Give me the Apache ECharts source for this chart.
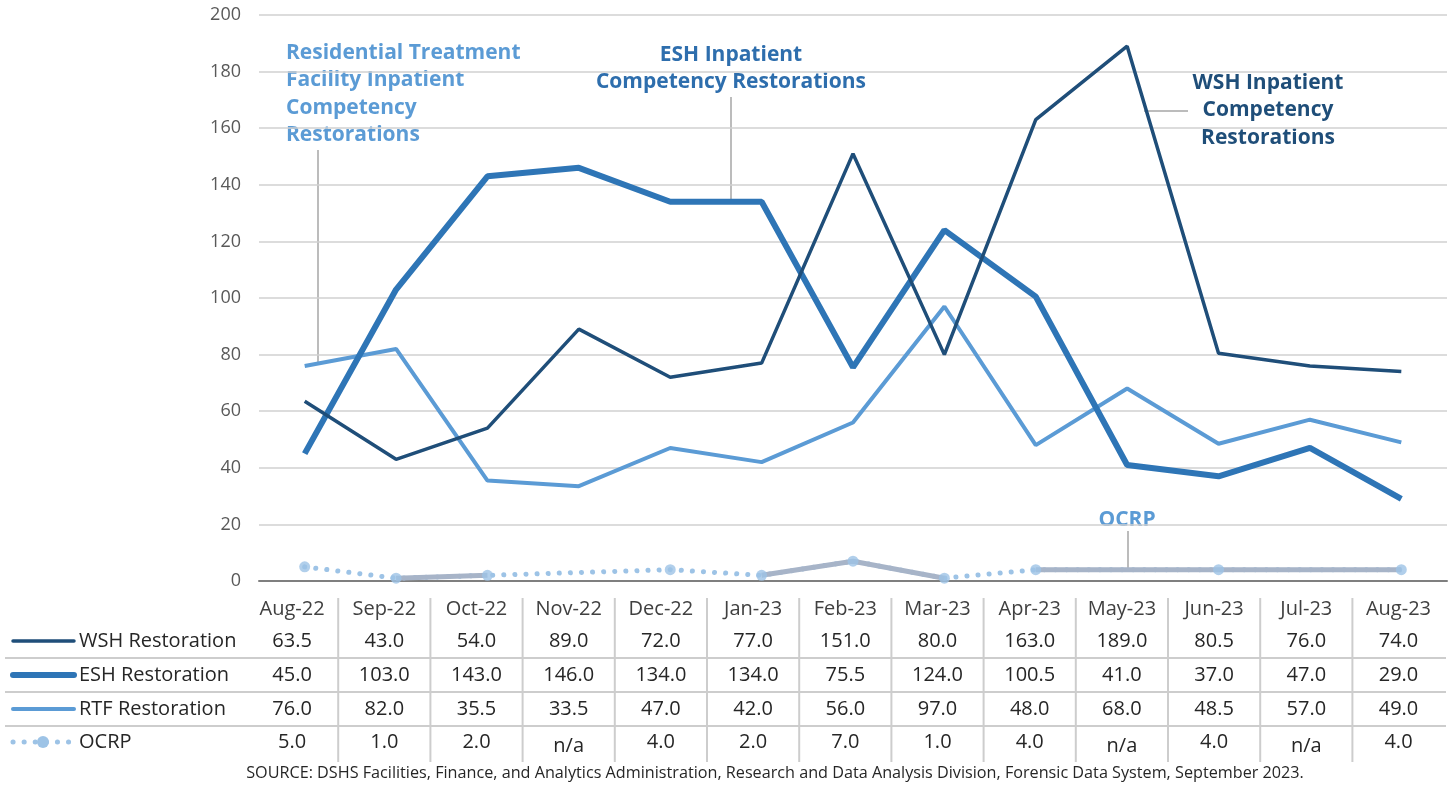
<!DOCTYPE html>
<html>
<head>
<meta charset="utf-8">
<script src="https://cdn.jsdelivr.net/npm/echarts@6/dist/echarts.min.js"></script>
<style>
  html, body { margin: 0; padding: 0; background: #fff; }
  #main { width: 1454px; height: 787px; }
</style>
</head>
<body>
<div id="main"></div>
<script>
var months = ['Aug-22', 'Sep-22', 'Oct-22', 'Nov-22', 'Dec-22', 'Jan-23', 'Feb-23', 'Mar-23', 'Apr-23', 'May-23', 'Jun-23', 'Jul-23', 'Aug-23'];
var wsh = [63.5, 43.0, 54.0, 89.0, 72.0, 77.0, 151.0, 80.0, 163.0, 189.0, 80.5, 76.0, 74.0];
var esh = [45.0, 103.0, 143.0, 146.0, 134.0, 134.0, 75.5, 124.0, 100.5, 41.0, 37.0, 47.0, 29.0];
var rtf = [76.0, 82.0, 35.5, 33.5, 47.0, 42.0, 56.0, 97.0, 48.0, 68.0, 48.5, 57.0, 49.0];
var ocrp = [5.0, 1.0, 2.0, null, 4.0, 2.0, 7.0, 1.0, 4.0, null, 4.0, null, 4.0];
// stretches of the OCRP line that Excel drew solid grey
var ocrpSolid = [[1, 2], [5, 7], [8, 12]];

var rowNames = ['WSH Restoration', 'ESH Restoration', 'RTF Restoration', 'OCRP'];
var rowData = [wsh, esh, rtf, ocrp];
var colors = ['#1F4E79', '#2E75B6', '#5B9BD5', '#9DC3E6'];
var widths = [3.5, 6, 4, 5];
var fontFam = '"Open Sans", Lato, sans-serif';

var chart = echarts.init(document.getElementById('main'));

function fmt(v) {
  return v == null ? 'n/a' : v.toFixed(1);
}

function buildTable() {
  var g = [];
  var colLeft = 246, colW = 92.2;
  var headY = 609, rowY = [641, 675, 709, 742];
  var i, j;
  for (i = 0; i < months.length; i++) {
    g.push({ type: 'text', x: colLeft + colW * (i + 0.5), y: headY,
      style: { text: months[i], fill: '#404040', font: '20px ' + fontFam, align: 'center', verticalAlign: 'middle' } });
  }
  for (i = 1; i < months.length; i++) {
    g.push({ type: 'line', shape: { x1: colLeft + colW * i, y1: 598, x2: colLeft + colW * i, y2: 762 },
      style: { stroke: '#cdcdcd', lineWidth: 2 } });
  }
  [658, 692, 726].forEach(function (y) {
    g.push({ type: 'line', shape: { x1: 5, y1: y, x2: 1446, y2: y }, style: { stroke: '#cdcdcd', lineWidth: 2 } });
  });
  for (j = 0; j < rowNames.length; j++) {
    var ls = { stroke: colors[j], lineWidth: widths[j], lineCap: 'round' };
    if (j === 3) {
      ls.lineDash = [0.1, 11];
    }
    g.push({ type: 'line', shape: { x1: 13, y1: rowY[j], x2: 74, y2: rowY[j] }, style: ls });
    if (j === 3) {
      g.push({ type: 'circle', shape: { cx: 43, cy: rowY[j], r: 6 }, style: { fill: colors[j] } });
    }
    g.push({ type: 'text', x: 79, y: rowY[j],
      style: { text: rowNames[j], fill: '#262626', font: '20px ' + fontFam, verticalAlign: 'middle' } });
    for (i = 0; i < months.length; i++) {
      var v = rowData[j][i];
      g.push({ type: 'text', x: colLeft + colW * (i + 0.5), y: rowY[j] + (v == null ? 4 : 0),
        style: { text: fmt(v), fill: '#262626', font: '20px ' + fontFam, align: 'center', verticalAlign: 'middle' } });
    }
  }
  g.push({ type: 'text', x: 775, y: 773,
    style: { text: 'SOURCE: DSHS Facilities, Finance, and Analytics Administration, Research and Data Analysis Division, Forensic Data System, September 2023.',
      fill: '#262626', font: '16.2px ' + fontFam, align: 'center', verticalAlign: 'middle' } });
  return g;
}

function buildNotes() {
  var bold = 'bold 21px ' + fontFam;
  return [
    { type: 'line', shape: { x1: 318, y1: 150, x2: 318, y2: 364 }, style: { stroke: '#a6a6a6', lineWidth: 1.5 } },
    { type: 'text', x: 286, y: 39, style: { text: 'Residential Treatment\nFacility Inpatient\nCompetency\nRestorations',
      fill: '#5B9BD5', font: bold, lineHeight: 27.5 } },
    { type: 'line', shape: { x1: 731, y1: 97, x2: 731, y2: 200 }, style: { stroke: '#a6a6a6', lineWidth: 1.5 } },
    { type: 'text', x: 731, y: 41, style: { text: 'ESH Inpatient\nCompetency Restorations',
      fill: '#2E6EAD', font: bold, lineHeight: 27.5, align: 'center' } },
    { type: 'line', shape: { x1: 1144, y1: 111, x2: 1188, y2: 111 }, style: { stroke: '#a6a6a6', lineWidth: 1.5 } },
    { type: 'text', x: 1268, y: 69, style: { text: 'WSH Inpatient\nCompetency\nRestorations',
      fill: '#1F4E79', font: bold, lineHeight: 27.5, align: 'center' } },
    { type: 'line', shape: { x1: 1128, y1: 531, x2: 1128, y2: 568 }, style: { stroke: '#a6a6a6', lineWidth: 1.5 } },
    { type: 'text', x: 1127, y: 520, style: { text: 'OCRP', fill: '#5B9BD5', font: bold, align: 'center', verticalAlign: 'middle' } }
  ];
}

var series = [
  { name: 'WSH Restoration', type: 'line', data: wsh, symbol: 'none', z: 4,
    lineStyle: { color: colors[0], width: widths[0] } },
  { name: 'ESH Restoration', type: 'line', data: esh, symbol: 'none', z: 3,
    lineStyle: { color: colors[1], width: widths[1] } },
  { name: 'RTF Restoration', type: 'line', data: rtf, symbol: 'none', z: 2,
    lineStyle: { color: colors[2], width: widths[2] } },
  { name: 'OCRP', type: 'line', data: ocrp, connectNulls: true, symbol: 'none', z: 5,
    lineStyle: { color: colors[3], width: 5, type: [0.1, 11], cap: 'round' } }
];
ocrpSolid.forEach(function (seg) {
  series.push({ name: 'OCRP', type: 'line', connectNulls: true, symbol: 'none', z: 6,
    data: ocrp.map(function (v, i) { return i >= seg[0] && i <= seg[1] ? v : null; }),
    lineStyle: { color: '#A7B4C8', width: 5 } });
});
series.push({ name: 'OCRP', type: 'scatter', data: ocrp, symbol: 'circle', symbolSize: 11, z: 7,
  itemStyle: { color: colors[3] } });

chart.setOption({
  animation: false,
  grid: { left: 259, right: 7, top: 15, height: 566 },
  xAxis: {
    type: 'category', data: months, boundaryGap: true,
    axisLine: { lineStyle: { color: '#7f7f7f', width: 2 } },
    axisTick: { show: false }, axisLabel: { show: false }
  },
  yAxis: {
    type: 'value', min: 0, max: 200, interval: 20,
    axisLine: { show: false }, axisTick: { show: false },
    axisLabel: { color: '#595959', fontSize: 18, fontFamily: fontFam, margin: 18 },
    splitLine: { lineStyle: { color: '#d0d0d0', width: 1.5 } }
  },
  series: series,
  graphic: buildTable().concat(buildNotes())
});
</script>
</body>
</html>
